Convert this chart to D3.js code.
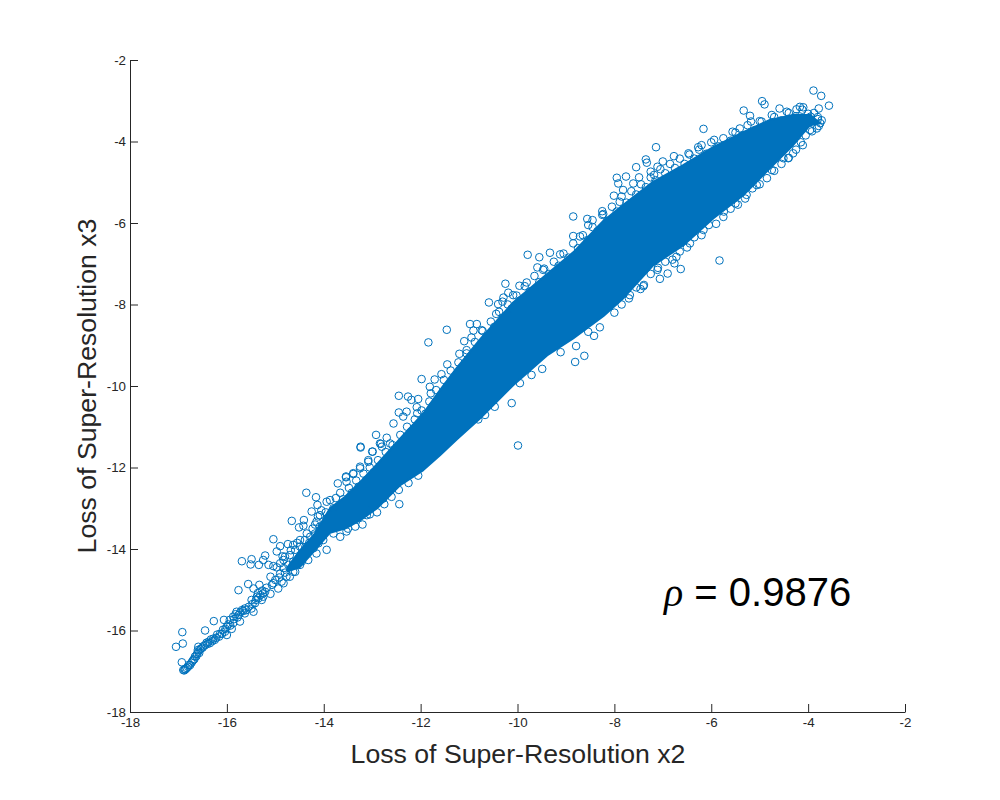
<!DOCTYPE html>
<html>
<head>
<meta charset="utf-8">
<script src="https://cdn.jsdelivr.net/npm/d3@7/dist/d3.min.js"></script>
<style>
  html, body { margin: 0; background: #fff; }
  text { font-family: "Liberation Sans", Arial, sans-serif; }
</style>
</head>
<body>
<div id="chart"></div>
<script>
const xTicks = [-18, -16, -14, -12, -10, -8, -6, -4, -2]
const yTicks = [-18, -16, -14, -12, -10, -8, -6, -4, -2]
const xLabel = "Loss of Super-Resolution x2"
const yLabel = "Loss of Super-Resolution x3"
const rhoValue = "0.9876"

// the solid part of the cloud, where single markers can't be told apart: edges
const coreX = [-14.75, -14.50, -14.20, -13.87, -13.56, -13.25, -12.90, -12.43, -11.95, -11.60, -11.25, -10.77, -10.09, -9.39, -8.85, -8.23, -7.82, -7.20, -6.58, -5.96, -5.34, -4.79, -4.31, -3.96, -3.75]
const coreUpper = [-14.45, -14.05, -13.65, -13.00, -12.72, -12.36, -11.92, -11.30, -10.68, -10.10, -9.55, -8.85, -7.95, -7.25, -6.72, -5.95, -5.56, -4.99, -4.58, -4.14, -3.77, -3.47, -3.35, -3.35, -3.55]
const coreLower = [-14.55, -14.45, -14.05, -13.60, -13.50, -13.30, -13.00, -12.44, -12.07, -11.70, -11.31, -10.79, -9.98, -9.25, -8.83, -8.29, -7.85, -7.04, -6.55, -5.89, -5.32, -4.66, -4.09, -3.60, -3.55]

const tailPoints = [
  [-17.05, -16.40], [-16.92, -16.04], [-16.91, -16.32], [-16.93, -16.78], [-16.90, -16.97], [-16.88, -16.98],
  [-16.87, -16.95], [-16.85, -16.95], [-16.83, -16.92], [-16.80, -16.89], [-16.78, -16.84], [-16.76, -16.85],
  [-16.73, -16.79], [-16.71, -16.75], [-16.69, -16.72], [-16.67, -16.70], [-16.66, -16.64], [-16.63, -16.63],
  [-16.62, -16.58], [-16.60, -16.48], [-16.59, -16.52], [-16.59, -16.40], [-16.57, -16.55], [-16.55, -16.46],
  [-16.53, -16.44], [-16.50, -16.42], [-16.48, -16.38], [-16.45, -16.00], [-16.45, -16.36], [-16.42, -16.30],
  [-16.40, -16.33], [-16.38, -16.28], [-16.35, -16.31], [-16.33, -16.22], [-16.30, -16.26], [-16.28, -16.20],
  [-16.27, -15.77], [-16.25, -16.23], [-16.22, -16.18], [-16.20, -16.10], [-16.16, -16.15], [-16.14, -16.08],
  [-16.10, -16.08], [-16.08, -15.98], [-16.06, -15.74], [-16.04, -16.03], [-16.03, -15.96], [-16.00, -15.91],
  [-16.00, -16.11], [-15.97, -15.85], [-15.94, -15.74], [-15.93, -15.88], [-15.90, -15.96], [-15.87, -15.66],
  [-15.87, -15.82], [-15.85, -15.72], [-15.82, -15.60], [-15.80, -15.54], [-15.78, -15.68], [-15.76, -15.01],
  [-15.76, -15.62], [-15.73, -15.78], [-15.72, -15.55], [-15.69, -15.50], [-15.69, -14.30], [-15.66, -15.52],
  [-15.63, -15.46], [-15.63, -15.58], [-15.60, -15.50], [-15.56, -14.86], [-15.55, -15.42], [-15.51, -14.38],
  [-15.49, -14.25], [-15.49, -15.25], [-15.49, -15.46], [-15.47, -15.35], [-15.45, -14.97], [-15.45, -15.54],
  [-15.42, -15.33], [-15.40, -15.25], [-15.38, -15.17], [-15.36, -15.08], [-15.35, -15.21], [-15.34, -14.39],
  [-15.33, -14.88], [-15.31, -15.13], [-15.28, -15.25], [-15.27, -15.02], [-15.25, -15.09], [-15.25, -15.17],
  [-15.25, -14.27], [-15.21, -14.16], [-15.21, -15.05], [-15.18, -14.95], [-15.14, -14.39], [-15.10, -15.10],
  [-15.10, -14.68], [-15.07, -14.88], [-15.04, -14.42], [-15.04, -13.76], [-15.04, -14.84], [-15.00, -14.76],
  [-14.97, -14.06], [-14.97, -14.45], [-14.94, -14.97], [-14.92, -14.70], [-14.90, -13.93], [-14.90, -14.35],
  [-14.90, -14.60], [-14.87, -14.80], [-14.85, -14.18], [-14.83, -14.84], [-14.83, -14.47], [-14.83, -14.27],
  [-14.80, -14.19], [-14.80, -14.58], [-14.77, -14.68], [-14.74, -13.88], [-14.73, -14.39], [-14.70, -14.15],
  [-14.70, -14.68], [-14.68, -14.03], [-14.66, -13.31], [-14.63, -14.31], [-14.63, -14.56], [-14.63, -13.90],
  [-14.59, -14.02], [-14.59, -14.56], [-14.55, -13.85], [-14.52, -14.23], [-14.51, -13.47], [-14.49, -13.94],
  [-14.49, -13.78], [-14.49, -14.39], [-14.45, -14.30], [-14.42, -14.15], [-14.42, -13.43], [-14.41, -13.29],
  [-14.39, -13.78], [-14.38, -13.95], [-14.36, -12.62], [-14.35, -13.62], [-14.32, -14.06], [-14.32, -14.27],
  [-14.30, -13.85], [-14.28, -13.70], [-14.25, -13.08], [-14.23, -13.50], [-14.21, -13.98], [-14.18, -13.62],
  [-14.18, -13.40], [-14.16, -12.73], [-14.15, -13.33], [-14.15, -14.11], [-14.13, -12.92], [-14.12, -13.20],
  [-14.11, -13.86], [-14.08, -13.45], [-14.08, -13.17], [-14.05, -13.05], [-14.01, -13.78], [-13.98, -13.60],
  [-13.96, -13.10], [-13.94, -12.84], [-13.94, -13.25], [-13.94, -14.02], [-13.87, -12.80], [-13.80, -13.00],
  [-13.80, -13.62], [-13.71, -12.39], [-13.66, -13.70], [-13.54, -12.22], [-13.53, -12.35], [-13.53, -13.57],
  [-13.39, -12.14], [-13.25, -12.02], [-13.24, -11.51], [-13.11, -13.17], [-13.08, -11.86], [-13.00, -11.61],
  [-12.98, -12.96], [-12.82, -11.42], [-12.77, -12.76]
]

const upperFringe = [
  [-13.54, -12.24], [-13.39, -12.16], [-13.25, -11.98], [-13.24, -11.49], [-13.08, -11.82], [-12.99, -11.61],
  [-12.92, -11.20], [-12.84, -11.41], [-12.80, -11.49], [-12.70, -11.27], [-12.63, -11.41], [-12.56, -10.92],
  [-12.45, -10.65], [-12.45, -10.24], [-12.36, -10.75], [-12.29, -10.63], [-12.26, -10.26], [-12.19, -10.34],
  [-12.08, -10.52], [-12.07, -10.67], [-12.05, -10.32], [-11.98, -9.83], [-11.84, -8.93], [-11.81, -10.02],
  [-11.79, -10.18], [-11.71, -9.84], [-11.57, -9.71], [-11.46, -8.62], [-11.45, -9.47], [-11.20, -9.21],
  [-11.10, -8.90], [-11.05, -9.12], [-10.98, -8.48], [-10.95, -8.81], [-10.91, -8.64], [-10.84, -8.48],
  [-10.74, -8.63], [-10.59, -7.95], [-10.44, -8.23], [-10.40, -7.99], [-10.31, -7.93], [-10.29, -7.83],
  [-10.25, -7.49], [-10.19, -7.71], [-10.09, -7.77], [-9.96, -7.54], [-9.81, -7.46], [-9.79, -6.78],
  [-9.59, -7.09], [-9.55, -6.84], [-9.47, -7.15], [-9.33, -6.73], [-9.12, -6.77], [-8.85, -5.84],
  [-8.85, -6.32], [-8.71, -6.33], [-8.56, -5.90], [-8.54, -6.05], [-8.45, -5.93], [-8.25, -5.71],
  [-8.23, -5.78], [-8.01, -5.33], [-7.95, -4.89], [-7.92, -5.03], [-7.89, -5.48], [-7.82, -5.19],
  [-7.76, -4.86], [-7.61, -5.03], [-7.55, -4.63], [-7.49, -4.88], [-7.35, -4.44], [-7.33, -4.52],
  [-7.25, -4.74], [-7.18, -4.82], [-7.14, -4.14], [-7.11, -4.62], [-7.00, -4.49], [-6.77, -4.36],
  [-6.47, -4.29], [-6.27, -4.14], [-6.20, -4.09], [-6.16, -3.69], [-5.94, -3.96], [-5.56, -3.76],
  [-5.41, -3.68], [-5.33, -3.24], [-5.20, -3.37], [-5.18, -3.51], [-4.96, -3.51], [-4.95, -3.01],
  [-4.90, -3.09], [-4.75, -3.35], [-4.59, -3.19], [-4.44, -3.27], [-4.24, -3.21], [-4.17, -3.15],
  [-4.10, -3.16], [-3.95, -3.39], [-3.89, -2.75], [-3.78, -3.19], [-3.73, -2.88], [-3.57, -3.12]
]

// markers sitting on the top edge of the solid part
const upperEdge = [
  [-13.75, -12.75], [-13.66, -12.62], [-13.60, -12.78], [-13.48, -12.50], [-13.42, -12.62], [-13.33, -12.32],
  [-13.28, -12.47], [-13.18, -12.15], [-13.12, -12.30], [-13.05, -12.00], [-12.97, -12.12], [-12.88, -11.82],
  [-12.80, -11.95], [-12.72, -11.62], [-12.66, -11.78], [-12.58, -11.45], [-12.50, -11.55], [-12.42, -11.20],
  [-12.35, -11.38], [-12.28, -11.00], [-12.20, -11.12], [-12.12, -10.82], [-12.05, -10.95], [-11.98, -10.60],
  [-11.90, -10.68], [-11.82, -10.38], [-11.76, -10.50], [-11.68, -10.10], [-11.60, -10.25], [-11.52, -9.85],
  [-11.45, -10.00], [-11.38, -9.62], [-11.30, -9.80], [-11.22, -9.42], [-11.15, -9.55], [-11.05, -9.20],
  [-10.98, -9.35], [-10.88, -8.92], [-10.80, -9.05], [-10.72, -8.65], [-10.65, -8.80], [-10.55, -8.42],
  [-10.48, -8.55], [-10.38, -8.18], [-10.30, -8.32], [-10.20, -8.00], [-10.12, -8.10], [-10.02, -7.78],
  [-9.95, -7.90], [-9.85, -7.55], [-9.75, -7.68], [-9.65, -7.30], [-9.55, -7.45], [-9.45, -7.12],
  [-9.35, -7.25], [-9.25, -6.95], [-9.15, -7.05], [-9.05, -6.75], [-8.95, -6.85], [-8.85, -6.50],
  [-8.75, -6.62], [-8.65, -6.30], [-8.55, -6.42], [-8.45, -6.10], [-8.35, -6.20], [-8.25, -5.80],
  [-8.15, -5.95], [-8.05, -5.60], [-7.95, -5.72], [-7.85, -5.35], [-7.75, -5.50], [-7.65, -5.22],
  [-7.55, -5.30], [-7.45, -5.05], [-7.35, -5.12], [-7.25, -4.88], [-7.15, -4.95], [-7.05, -4.68],
  [-6.95, -4.78], [-6.85, -4.55], [-6.75, -4.65], [-6.65, -4.42], [-6.55, -4.55], [-6.45, -4.32],
  [-6.35, -4.42], [-6.25, -4.20], [-6.10, -4.30], [-6.00, -4.02], [-5.85, -4.12], [-5.75, -3.92],
  [-5.60, -3.98], [-5.50, -3.78], [-5.35, -3.85], [-5.25, -3.60], [-5.10, -3.72], [-5.00, -3.50],
  [-4.85, -3.60], [-4.70, -3.40], [-4.55, -3.48], [-4.40, -3.30], [-4.25, -3.38], [-4.12, -3.22],
  [-4.00, -3.32], [-3.88, -3.30], [-3.80, -3.45]
]

const lowerFringe = [
  [-12.44, -12.90], [-10.81, -10.82], [-10.67, -10.71], [-10.47, -10.51], [-10.12, -10.42], [-9.99, -11.46],
  [-9.95, -9.93], [-9.71, -9.73], [-9.49, -9.58], [-9.11, -9.17], [-8.81, -9.41], [-8.79, -9.02],
  [-8.62, -9.26], [-8.54, -8.67], [-8.42, -8.77], [-8.30, -8.56], [-7.68, -7.77], [-7.46, -7.62],
  [-7.39, -7.52], [-7.11, -7.15], [-7.06, -7.37], [-6.90, -7.24], [-6.76, -6.99], [-6.72, -6.83],
  [-6.63, -7.13], [-6.44, -6.50], [-6.16, -6.17], [-5.83, -6.92], [-5.74, -5.72], [-5.50, -5.52],
  [-5.27, -5.31], [-5.06, -5.07], [-4.75, -4.70], [-4.51, -4.41], [-4.41, -4.41], [-4.31, -4.29],
  [-4.11, -4.09], [-3.96, -3.72], [-3.82, -3.68], [-3.75, -3.55]
]

// markers sitting on the bottom edge of the solid part
const lowerEdge = [
  [-13.50, -13.50], [-13.35, -13.45], [-13.20, -13.40], [-13.05, -13.15], [-12.90, -13.10], [-12.75, -12.90],
  [-12.60, -12.72], [-12.45, -12.55], [-12.25, -12.38], [-12.05, -12.20], [-8.00, -8.20], [-7.85, -8.00],
  [-7.70, -7.85], [-7.55, -7.58], [-7.40, -7.55], [-7.25, -7.25], [-7.10, -7.10], [-6.95, -6.95],
  [-6.80, -6.90], [-6.65, -6.70], [-6.50, -6.60], [-6.35, -6.35], [-6.20, -6.30], [-6.05, -6.05],
  [-5.90, -6.02], [-5.75, -5.85], [-5.60, -5.65], [-5.45, -5.55], [-5.30, -5.40], [-5.15, -5.15],
  [-5.00, -5.05], [-4.85, -4.90], [-4.70, -4.72], [-4.55, -4.55], [-4.40, -4.40], [-4.25, -4.20],
  [-4.15, -4.02], [-4.05, -3.85], [-3.92, -3.75], [-3.78, -3.62], [-3.72, -3.48], [-3.80, -3.40]
]

const width = 1000
const height = 800
const margin = { left: 130, top: 60, right: 95, bottom: 88 }
const ink = "#262626"
const blue = "#0072BD"

const x = d3.scaleLinear().domain([-18, -2]).range([margin.left, width - margin.right])
const y = d3.scaleLinear().domain([-18, -2]).range([height - margin.bottom, margin.top])

const svg = d3.select("#chart").append("svg")
  .attr("width", width)
  .attr("height", height)
  .style("display", "block")

const coreArea = d3.area()
  .x(d => x(d))
  .y0((d, i) => y(coreLower[i]))
  .y1((d, i) => y(coreUpper[i]))

svg.append("path")
  .attr("class", "core")
  .attr("d", coreArea(coreX))
  .attr("fill", blue)
  .attr("stroke", blue)
  .attr("stroke-width", 2)
  .attr("stroke-linejoin", "round")

svg.append("g")
  .attr("class", "points")
  .selectAll("circle")
  .data(tailPoints.concat(upperFringe, upperEdge, lowerFringe, lowerEdge))
  .join("circle")
  .attr("r", 3.8)
  .attr("cx", d => x(d[0]))
  .attr("cy", d => y(d[1]))
  .attr("fill", "none")
  .attr("stroke", blue)
  .attr("stroke-width", 1)

const xAxis = svg.append("g")
  .attr("transform", "translate(0, " + (height - margin.bottom) + ")")
  .call(d3.axisBottom(x).tickValues(xTicks).tickFormat(d => String(d)).tickSizeInner(-8).tickSizeOuter(0).tickPadding(6))

const yAxis = svg.append("g")
  .attr("transform", "translate(" + margin.left + ", 0)")
  .call(d3.axisLeft(y).tickValues(yTicks).tickFormat(d => String(d)).tickSizeInner(-8).tickSizeOuter(0).tickPadding(4))

for (const axis of [xAxis, yAxis]) {
  axis.selectAll("path, line").attr("stroke", ink).attr("stroke-width", 1)
  axis.selectAll("text")
    .attr("fill", ink)
    .style("font-family", '"Liberation Sans", Arial, sans-serif')
    .style("font-size", "13.33px")
}

svg.append("text")
  .attr("x", 518)
  .attr("y", 763)
  .attr("text-anchor", "middle")
  .attr("fill", ink)
  .style("font-size", "26.67px")
  .text(xLabel)

svg.append("text")
  .attr("transform", "translate(96, 386) rotate(-90)")
  .attr("text-anchor", "middle")
  .attr("fill", ink)
  .style("font-size", "26.67px")
  .text(yLabel)

const rho = svg.append("text")
  .attr("x", 664)
  .attr("y", 606)
  .attr("fill", "#000")
  .style("font-size", "40px")

rho.append("tspan")
  .style("font-family", '"Liberation Serif", "DejaVu Serif", serif')
  .style("font-style", "italic")
  .text("ρ")

rho.append("tspan").text(" = " + rhoValue)
</script>
</body>
</html>
